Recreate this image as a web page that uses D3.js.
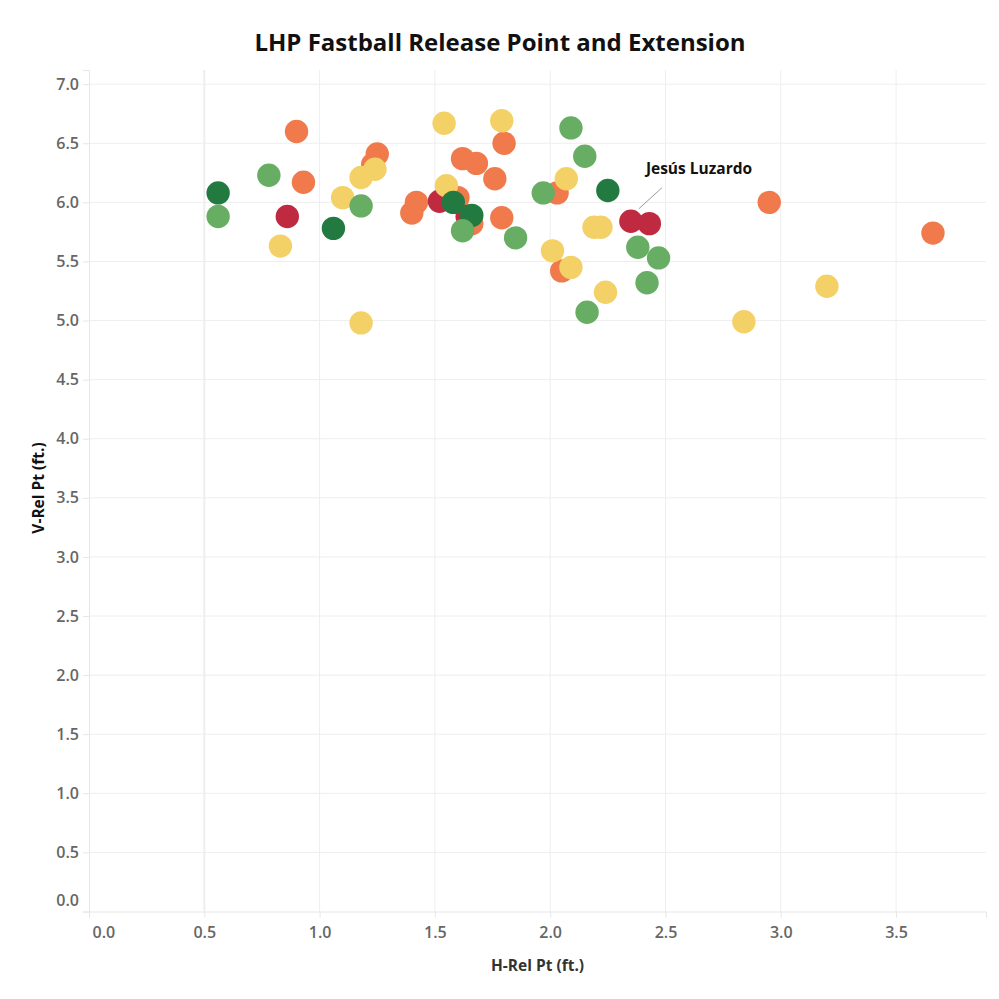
<!DOCTYPE html>
<html>
<head>
<meta charset="utf-8">
<script src="https://cdn.jsdelivr.net/npm/d3@7"></script>
<style>
  body { margin: 0; background: #fff; }
  text { font-family: "Open Sans", "Lato", sans-serif; }
</style>
</head>
<body>
<svg id="draw"></svg>
<script>
// release point per pitcher (ft.)
let hRel = [0.56, 0.56, 0.78, 0.90, 0.93, 0.86, 0.83, 1.06, 1.10, 1.18,
            1.18, 1.25, 1.23, 1.24, 1.18, 1.42, 1.40, 1.54, 1.79, 1.80,
            1.62, 1.68, 1.76, 1.55, 1.52, 1.60, 1.58, 1.64, 1.66, 1.66,
            1.62, 1.79, 1.85, 1.97, 2.09, 2.15, 2.07, 2.03, 2.25, 2.35,
            2.43, 2.19, 2.22, 2.38, 2.47, 2.42, 2.01, 2.05, 2.09, 2.24,
            2.16, 2.95, 3.66, 3.20, 2.84];
let vRel = [6.08, 5.88, 6.23, 6.60, 6.17, 5.88, 5.63, 5.78, 6.04, 5.97,
            6.21, 6.41, 6.32, 6.28, 4.98, 6.00, 5.91, 6.67, 6.69, 6.50,
            6.37, 6.33, 6.20, 6.14, 6.01, 6.04, 6.00, 5.88, 5.82, 5.89,
            5.76, 5.87, 5.70, 6.08, 6.63, 6.39, 6.20, 6.08, 6.10, 5.84,
            5.82, 5.79, 5.79, 5.62, 5.53, 5.32, 5.59, 5.42, 5.45, 5.24,
            5.07, 6.00, 5.74, 5.29, 4.99];
// extension bucket (1 = most ... 5 = least)
let extTier = [1, 2, 2, 4, 4, 5, 3, 1, 3, 2,
               3, 4, 4, 3, 3, 4, 4, 3, 3, 4,
               4, 4, 4, 3, 5, 4, 1, 5, 4, 1,
               2, 4, 2, 2, 2, 2, 3, 4, 1, 5,
               5, 3, 3, 2, 2, 2, 3, 4, 3, 3,
               2, 4, 4, 3, 3];
let tiers = [1, 2, 3, 4, 5];
let tierColors = ["#237a41", "#68ad64", "#f4d166", "#f07a4b", "#bf2a40"];
let drawOrder = [4, 5, 3, 1, 2]; // which bucket ends up on top
let xTicks = [0, 0.5, 1, 1.5, 2, 2.5, 3, 3.5];
let yTicks = [0, 0.5, 1, 1.5, 2, 2.5, 3, 3.5, 4, 4.5, 5, 5.5, 6, 6.5, 7];
let callout = { index: 39, text: "Jesús Luzardo" };

let W = 999, H = 999;
let plot = { left: 89, right: 986, top: 70, bottom: 911.5 };

let svg = d3.select("#draw")
  .attr("width", W)
  .attr("height", H);

let xScale = d3.scaleLinear()
  .domain([0, 3.89])
  .range([plot.left, plot.right]);

let yScale = d3.scaleLinear()
  .domain([0, 7.12])
  .range([plot.bottom, plot.top]);

let color = d3.scaleOrdinal()
  .domain(tiers)
  .range(tierColors);

// gridlines
svg.append("g")
  .selectAll("line")
  .data(xTicks.filter(function(d) { return d > 0; }))
  .enter().append("line")
  .attr("x1", function(d) { return xScale(d); })
  .attr("x2", function(d) { return xScale(d); })
  .attr("y1", plot.top)
  .attr("y2", plot.bottom)
  .attr("stroke", "#eeeeee")
  .attr("stroke-width", function(d) { return d == 0.5 ? 2 : 1; });

svg.append("g")
  .selectAll("line")
  .data(yTicks.filter(function(d) { return d > 0; }))
  .enter().append("line")
  .attr("x1", plot.left)
  .attr("x2", plot.right)
  .attr("y1", function(d) { return yScale(d); })
  .attr("y2", function(d) { return yScale(d); })
  .attr("stroke", "#eeeeee");

// axes
let xAxis = svg.append("g")
  .attr("transform", "translate(0," + plot.bottom + ")")
  .call(d3.axisBottom(xScale)
    .tickValues(xTicks)
    .tickSize(6)
    .tickFormat(d3.format(".1f")));

let yAxis = svg.append("g")
  .attr("transform", "translate(" + plot.left + ",0)")
  .call(d3.axisLeft(yScale)
    .tickValues(yTicks)
    .tickSize(6)
    .tickFormat(d3.format(".1f")));

[xAxis, yAxis].forEach(function(ax) {
  ax.select(".domain").attr("stroke", "#e6e6e6");
  ax.selectAll(".tick line").attr("stroke", "#e6e6e6");
  ax.selectAll(".tick text")
    .attr("fill", "#666")
    .style("font-size", "16px")
    .style("font-weight", "600");
});

xAxis.selectAll(".tick text").attr("y", 15);
yAxis.selectAll(".tick text").attr("x", -10);

// edge labels are pushed inside like the original
xAxis.selectAll(".tick text")
  .filter(function(d) { return d == 0; })
  .attr("text-anchor", "start")
  .attr("x", 3);
yAxis.selectAll(".tick text")
  .filter(function(d) { return d == 0; })
  .attr("dy", "-0.4em");

// points
let points = d3.range(hRel.length).sort(function(a, b) {
  return drawOrder.indexOf(extTier[a]) - drawOrder.indexOf(extTier[b]) || a - b;
});

svg.append("g")
  .selectAll("circle")
  .data(points)
  .enter().append("circle")
  .attr("cx", function(i) { return xScale(hRel[i]); })
  .attr("cy", function(i) { return yScale(vRel[i]); })
  .attr("r", 11.7)
  .attr("fill", function(i) { return color(extTier[i]); });

// callout
let cx = xScale(hRel[callout.index]);
let cy = yScale(vRel[callout.index]);
svg.append("line")
  .attr("x1", cx + 8)
  .attr("y1", cy - 12.5)
  .attr("x2", cx + 31)
  .attr("y2", cy - 33.5)
  .attr("stroke", "#999")
  .attr("stroke-width", 1);
svg.append("text")
  .attr("x", cx + 15)
  .attr("y", cy - 47)
  .attr("fill", "#111")
  .style("font-size", "15.5px")
  .style("font-weight", "700")
  .text(callout.text);

// titles
svg.append("text")
  .attr("x", 500)
  .attr("y", 51)
  .attr("text-anchor", "middle")
  .attr("fill", "#111")
  .style("font-size", "24px")
  .style("font-weight", "700")
  .text("LHP Fastball Release Point and Extension");

svg.append("text")
  .attr("x", (plot.left + plot.right) / 2)
  .attr("y", 971)
  .attr("text-anchor", "middle")
  .attr("fill", "#333")
  .style("font-size", "15.5px")
  .style("font-weight", "700")
  .text("H-Rel Pt (ft.)");

svg.append("text")
  .attr("transform", "translate(44," + 488 + ") rotate(-90)")
  .attr("text-anchor", "middle")
  .attr("fill", "#111")
  .style("font-size", "15.5px")
  .style("font-weight", "700")
  .text("V-Rel Pt (ft.)");
</script>
</body>
</html>
